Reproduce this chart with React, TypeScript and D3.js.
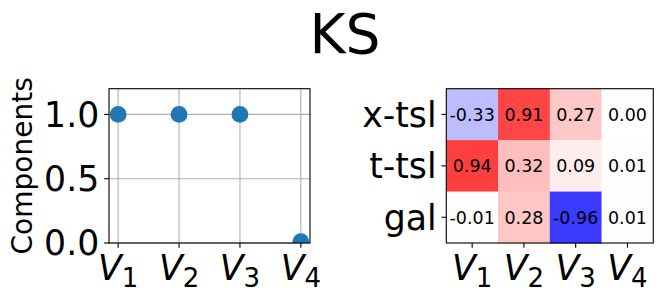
import React, { useEffect, useRef } from "react";
import * as d3 from "d3";

// scatter panel
const components = ["1", "2", "3", "4"];
const componentValues = [1.0, 1.0, 1.0, 0.01];
const yTicks = [0.0, 0.5, 1.0];

// heatmap panel
const rowLabels = ["x-tsl", "t-tsl", "gal"];
const heatValues = [
  [-0.33, 0.91, 0.27, 0.0],
  [0.94, 0.32, 0.09, 0.01],
  [-0.01, 0.28, -0.96, 0.01],
];

const FONT = "DejaVu Sans, sans-serif";

const App = () => {
  const ref = useRef<SVGSVGElement | null>(null);

  useEffect(() => {
    const svg = d3.select(ref.current);
    svg.selectAll("*").remove();

    const tickLen = 4.86;
    const tickFont = 34.7;

    // Title
    svg
      .append("text")
      .attr("x", 345)
      .attr("y", 53)
      .attr("text-anchor", "middle")
      .attr("font-family", FONT)
      .attr("font-size", 55)
      .text("KS");

    // helper for V_i labels
    const vLabel = (g, x, y, sub) => {
      const t = g
        .append("text")
        .attr("x", x)
        .attr("y", y)
        .attr("text-anchor", "middle")
        .attr("font-family", FONT)
        .attr("font-size", tickFont);
      t.append("tspan").attr("font-style", "italic").text("V");
      t.append("tspan").attr("font-size", 26).attr("dy", 6.7).text(sub);
    };

    // ---------- Left: scatter ----------
    const left = { x0: 109, x1: 310, y0: 88.7, y1: 243 };
    const x = d3
      .scaleLinear()
      .domain([-0.15, 3.15])
      .range([left.x0, left.x1]);
    const y = d3.scaleLinear().domain([0, 1.2]).range([left.y1, left.y0]);

    const g1 = svg.append("g");

    svg
      .append("defs")
      .append("clipPath")
      .attr("id", "clip-left")
      .append("rect")
      .attr("x", left.x0)
      .attr("y", left.y0)
      .attr("width", left.x1 - left.x0)
      .attr("height", left.y1 - left.y0);

    // grid
    g1.selectAll(".gx")
      .data(components)
      .enter()
      .append("line")
      .attr("x1", (d, i) => x(i))
      .attr("x2", (d, i) => x(i))
      .attr("y1", left.y0)
      .attr("y2", left.y1)
      .attr("stroke", "#b0b0b0")
      .attr("stroke-width", 1.1);
    g1.selectAll(".gy")
      .data(yTicks)
      .enter()
      .append("line")
      .attr("x1", left.x0)
      .attr("x2", left.x1)
      .attr("y1", (d) => y(d))
      .attr("y2", (d) => y(d))
      .attr("stroke", "#b0b0b0")
      .attr("stroke-width", 1.1);

    // points
    g1.append("g")
      .attr("clip-path", "url(#clip-left)")
      .selectAll("circle")
      .data(componentValues)
      .enter()
      .append("circle")
      .attr("cx", (d, i) => x(i))
      .attr("cy", (d) => y(d))
      .attr("r", 8.4)
      .attr("fill", "#1f77b4");

    // frame
    g1.append("rect")
      .attr("x", left.x0)
      .attr("y", left.y0)
      .attr("width", left.x1 - left.x0)
      .attr("height", left.y1 - left.y0)
      .attr("fill", "none")
      .attr("stroke", "black")
      .attr("stroke-width", 1.1);

    // y ticks
    yTicks.forEach((t) => {
      g1.append("line")
        .attr("x1", left.x0 - tickLen)
        .attr("x2", left.x0)
        .attr("y1", y(t))
        .attr("y2", y(t))
        .attr("stroke", "black")
        .attr("stroke-width", 1.1);
      g1.append("text")
        .attr("x", left.x0 - 2 * tickLen)
        .attr("y", y(t))
        .attr("dy", "0.36em")
        .attr("text-anchor", "end")
        .attr("font-family", FONT)
        .attr("font-size", tickFont)
        .text(t.toFixed(1));
    });

    // x ticks
    components.forEach((c, i) => {
      g1.append("line")
        .attr("x1", x(i))
        .attr("x2", x(i))
        .attr("y1", left.y1)
        .attr("y2", left.y1 + tickLen)
        .attr("stroke", "black")
        .attr("stroke-width", 1.1);
      vLabel(g1, x(i), 280, c);
    });

    // y label
    g1.append("text")
      .attr("transform", `translate(32,${(left.y0 + left.y1) / 2}) rotate(-90)`)
      .attr("text-anchor", "middle")
      .attr("font-family", FONT)
      .attr("font-size", 28)
      .text("Components");

    // ---------- Right: heatmap ----------
    const right = { x0: 446.3, x1: 653.3, y0: 88.7, y1: 243 };
    const xb = d3
      .scaleBand()
      .domain(components)
      .range([right.x0, right.x1]);
    const yb = d3
      .scaleBand()
      .domain(rowLabels)
      .range([right.y0, right.y1]);
    // bwr colormap blended with white at alpha 0.8
    const color = d3
      .scaleLinear<string>()
      .domain([-1, 0, 1])
      .range(["rgb(51,51,255)", "rgb(255,255,255)", "rgb(255,51,51)"]);

    const g2 = svg.append("g");
    const cells = heatValues.flatMap((row, r) =>
      row.map((v, c) => ({ row: rowLabels[r], col: components[c], v }))
    );

    g2.selectAll("rect.cell")
      .data(cells)
      .enter()
      .append("rect")
      .attr("class", "cell")
      .attr("x", (d) => xb(d.col))
      .attr("y", (d) => yb(d.row))
      .attr("width", xb.bandwidth() + 0.5)
      .attr("height", yb.bandwidth() + 0.5)
      .attr("fill", (d) => color(d.v));

    g2.selectAll("text.val")
      .data(cells)
      .enter()
      .append("text")
      .attr("class", "val")
      .attr("x", (d) => xb(d.col) + xb.bandwidth() / 2)
      .attr("y", (d) => yb(d.row) + yb.bandwidth() / 2)
      .attr("dy", "0.36em")
      .attr("text-anchor", "middle")
      .attr("font-family", FONT)
      .attr("font-size", 17.5)
      .attr("fill", "black")
      .text((d) => d.v.toFixed(2));

    g2.append("rect")
      .attr("x", right.x0)
      .attr("y", right.y0)
      .attr("width", right.x1 - right.x0)
      .attr("height", right.y1 - right.y0)
      .attr("fill", "none")
      .attr("stroke", "black")
      .attr("stroke-width", 1.1);

    rowLabels.forEach((r) => {
      const cy = yb(r) + yb.bandwidth() / 2;
      g2.append("line")
        .attr("x1", right.x0 - tickLen)
        .attr("x2", right.x0)
        .attr("y1", cy)
        .attr("y2", cy)
        .attr("stroke", "black")
        .attr("stroke-width", 1.1);
      g2.append("text")
        .attr("x", right.x0 - 2 * tickLen)
        .attr("y", cy)
        .attr("dy", "0.36em")
        .attr("text-anchor", "end")
        .attr("font-family", FONT)
        .attr("font-size", tickFont)
        .text(r);
    });

    components.forEach((c) => {
      const cx = xb(c) + xb.bandwidth() / 2;
      g2.append("line")
        .attr("x1", cx)
        .attr("x2", cx)
        .attr("y1", right.y1)
        .attr("y2", right.y1 + tickLen)
        .attr("stroke", "black")
        .attr("stroke-width", 1.1);
      vLabel(g2, cx, 280, c);
    });
  }, []);

  return (
    <svg
      ref={ref}
      width={662}
      height={299}
      style={{ position: "absolute", left: 0, top: 0, background: "white" }}
    />
  );
};

export default App;
